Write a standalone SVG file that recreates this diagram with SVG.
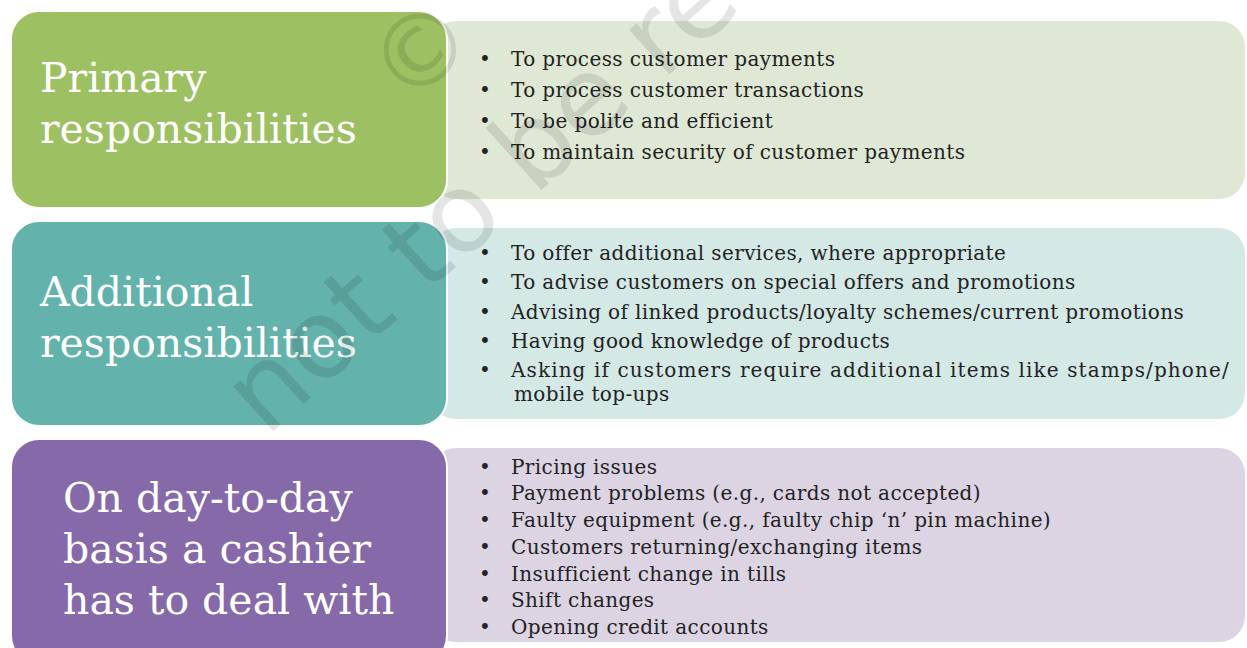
<svg xmlns="http://www.w3.org/2000/svg" width="1247" height="648" viewBox="0 0 1247 648">
<style>
.title{font-family:"DejaVu Serif","Liberation Serif",serif;font-size:41px;fill:#ffffff}
.item{font-family:"DejaVu Serif","Liberation Serif",serif;font-size:20px;letter-spacing:0.38px;fill:#222222}
.box{stroke:#ffffff;stroke-width:2}
.wm{font-family:"DejaVu Sans","Liberation Sans",sans-serif;fill:#000000;fill-opacity:0.1}
</style>
<rect width="1247" height="648" fill="#ffffff"/>
<g id="primary">
  <rect x="430" y="21" width="815" height="178" rx="26" fill="#dfe8d5"/>
  <rect class="box" x="11" y="11" width="436" height="197" rx="28" fill="#9dc062"/>
  <text class="title" x="40" y="92">Primary</text>
  <text class="title" x="40" y="143">responsibilities</text>
  <g class="item">
    <text x="479" y="66">•</text><text x="511" y="66">To process customer payments</text>
    <text x="479" y="97">•</text><text x="511" y="97">To process customer transactions</text>
    <text x="479" y="128">•</text><text x="511" y="128">To be polite and efficient</text>
    <text x="479" y="159">•</text><text x="511" y="159">To maintain security of customer payments</text>
  </g>
</g>
<g id="additional">
  <rect x="430" y="228" width="815" height="191" rx="26" fill="#d4e8e5"/>
  <rect class="box" x="11" y="221" width="436" height="205" rx="28" fill="#63b2ac"/>
  <text class="title" x="40" y="306">Additional</text>
  <text class="title" x="40" y="357">responsibilities</text>
  <g class="item">
    <text x="479" y="260">•</text><text x="511" y="260">To offer additional services, where appropriate</text>
    <text x="479" y="289">•</text><text x="511" y="289">To advise customers on special offers and promotions</text>
    <text x="479" y="319">•</text><text x="511" y="319">Advising of linked products/loyalty schemes/current promotions</text>
    <text x="479" y="348">•</text><text x="511" y="348">Having good knowledge of products</text>
    <text x="479" y="377">•</text><text x="511" y="377" textLength="718" lengthAdjust="spacing">Asking if customers require additional items like stamps/phone/</text>
    <text x="514" y="401">mobile top-ups</text>
  </g>
</g>
<g id="daytoday">
  <rect x="430" y="448" width="815" height="194" rx="26" fill="#dcd4e3"/>
  <rect class="box" x="11" y="439" width="436" height="225" rx="28" fill="#8669a8"/>
  <text class="title" x="63" y="512">On day-to-day</text>
  <text class="title" x="63" y="563">basis a cashier</text>
  <text class="title" x="63" y="614">has to deal with</text>
  <g class="item">
    <text x="479" y="474">•</text><text x="511" y="474">Pricing issues</text>
    <text x="479" y="500">•</text><text x="511" y="500">Payment problems (e.g., cards not accepted)</text>
    <text x="479" y="527">•</text><text x="511" y="527">Faulty equipment (e.g., faulty chip ‘n’ pin machine)</text>
    <text x="479" y="554">•</text><text x="511" y="554">Customers returning/exchanging items</text>
    <text x="479" y="581">•</text><text x="511" y="581">Insufficient change in tills</text>
    <text x="479" y="607">•</text><text x="511" y="607">Shift changes</text>
    <text x="479" y="634">•</text><text x="511" y="634">Opening credit accounts</text>
  </g>
</g>
<g id="connectors"></g>
<g id="watermark">
  <text class="wm" font-size="110" transform="translate(266,438) rotate(-42)">not to be re</text>
  <text class="wm" font-size="100" transform="translate(407,110) rotate(-42)">©</text>
</g>
</svg>
